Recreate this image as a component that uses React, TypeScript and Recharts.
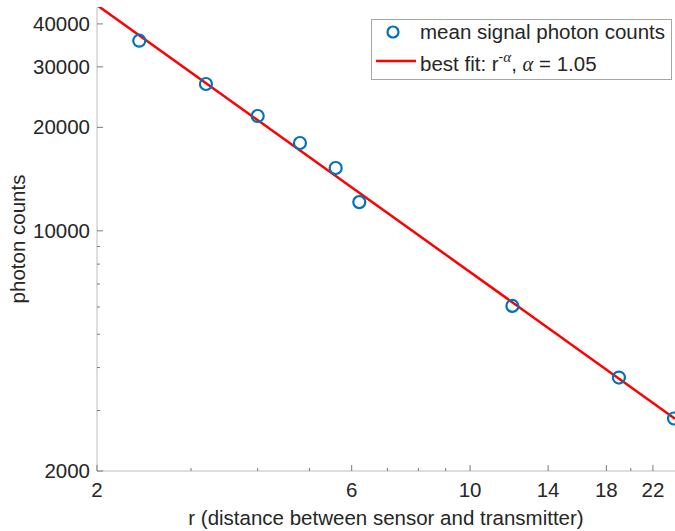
import {
  ComposedChart,
  Legend,
  Line,
  Scatter,
  XAxis,
  YAxis,
} from "recharts";

// measured points: distance r and mean signal photon counts
const distances = [2.4, 3.2, 4.0, 4.8, 5.6, 6.2, 12, 19, 24.1];
const photonCounts = [35750, 26740, 21580, 18010, 15230, 12120, 6046, 3741, 2843];

// best fit line end points (power law, straight on log-log axes)
const fitDistances = [2, 24.2];
const fitCounts = [45360, 2839];

const X_DOMAIN = [2, 24.2];
const Y_DOMAIN = [2000, 44800];

const xTicks = [2, 3, 4, 5, 6, 7, 8, 9, 10, 14, 18, 20, 22];
const xLabels = [2, 6, 10, 14, 18, 22];
const yTicks = [2000, 3000, 4000, 5000, 6000, 7000, 8000, 9000, 10000, 20000, 30000, 40000];
const yLabels = [2000, 10000, 20000, 30000, 40000];

const points = distances.map((r, i) => ({ r, counts: photonCounts[i] }));
const fitLine = fitDistances.map((r, i) => ({ r, counts: fitCounts[i] }));

const FONT = "'Liberation Sans', Arial, Helvetica, sans-serif";
const FS = 20.5;
const TEXT = "#262626";
const AXIS = "#bcbcbc";
const TICK = "#7a7a7a";
const BLUE = "#0072BD";

const YTick = (props: any) => {
  const { x, y, payload } = props;
  const axisX = x + 7;
  const major = yLabels.includes(payload.value);
  return (
    <g>
      <line x1={axisX} x2={axisX + (major ? 6 : 3)} y1={y} y2={y} stroke={TICK} />
      {major && (
        <text x={x} y={y} dy={7} textAnchor="end" fontFamily={FONT} fontSize={FS} fill={TEXT}>
          {payload.value}
        </text>
      )}
    </g>
  );
};

const XTick = (props: any) => {
  const { x, y, payload } = props;
  const axisY = y - 6;
  const major = xLabels.includes(payload.value);
  return (
    <g>
      <line x1={x} x2={x} y1={axisY} y2={axisY - (major ? 6 : 3)} stroke={TICK} />
      {major && (
        <text x={x} y={y} dy={20} textAnchor="middle" fontFamily={FONT} fontSize={FS} fill={TEXT}>
          {payload.value}
        </text>
      )}
    </g>
  );
};

const TopTick = (props: any) => {
  const { x, y, payload } = props;
  const major = xLabels.includes(payload.value);
  return <line x1={x} x2={x} y1={y} y2={y + (major ? 6 : 3)} stroke={TICK} />;
};

const YTitle = ({ viewBox }: any) => (
  <text
    transform={`translate(${viewBox.x + 25}, ${viewBox.y + viewBox.height / 2}) rotate(-90)`}
    textAnchor="middle"
    fontFamily={FONT}
    fontSize={FS}
    fill={TEXT}
  >
    photon counts
  </text>
);

const XTitle = ({ viewBox }: any) => (
  <text
    x={viewBox.x + viewBox.width / 2}
    y={viewBox.y + 54}
    textAnchor="middle"
    fontFamily={FONT}
    fontSize={FS}
    fill={TEXT}
  >
    r (distance between sensor and transmitter)
  </text>
);

const Ring = (props: any) => (
  <circle cx={props.cx} cy={props.cy} r={6} fill="none" stroke={BLUE} strokeWidth={2.2} />
);

const LegendBox = () => (
  <svg width={302} height={62}>
    <rect x={0.5} y={0.5} width={300} height={60} fill="#fff" stroke="#a6a6a6" />
    <circle cx={22} cy={13} r={5.5} fill="none" stroke={BLUE} strokeWidth={2.2} />
    <line x1={5} x2={45} y1={42} y2={42} stroke="#ff0000" strokeWidth={2.5} />
    <text x={49} y={20} fontFamily={FONT} fontSize={FS} fill={TEXT}>
      mean signal photon counts
    </text>
    <text x={49} y={52} fontFamily={FONT} fontSize={FS} fill={TEXT}>
      best fit: r
      <tspan dy={-9} fontSize={14}>-</tspan>
      <tspan fontSize={15} fontStyle="italic" fontFamily="'Liberation Serif', serif">α</tspan>
      <tspan dy={9}>, </tspan>
      <tspan fontStyle="italic" fontFamily="'Liberation Serif', serif">α</tspan>
      <tspan> = 1.05</tspan>
    </text>
  </svg>
);

export default function App() {
  return (
    <div style={{ position: "absolute", left: 0, top: 0, background: "#fff" }}>
      <ComposedChart width={675} height={531} margin={{ top: 7, right: 0, bottom: 0, left: 0 }}>
        <XAxis
          dataKey="r"
          type="number"
          scale="log"
          domain={X_DOMAIN}
          allowDataOverflow
          ticks={xTicks}
          interval={0}
          tickSize={0}
          tickMargin={6}
          height={60}
          tick={<XTick />}
          axisLine={{ stroke: AXIS }}
          label={<XTitle />}
        />
        <XAxis
          xAxisId="top"
          orientation="top"
          type="number"
          scale="log"
          domain={X_DOMAIN}
          allowDataOverflow
          ticks={xTicks}
          interval={0}
          tickSize={0}
          tickMargin={0}
          height={0}
          tick={<TopTick />}
          axisLine={{ stroke: AXIS }}
        />
        <YAxis
          dataKey="counts"
          type="number"
          scale="log"
          domain={Y_DOMAIN}
          allowDataOverflow
          ticks={yTicks}
          interval={0}
          tickSize={0}
          tickMargin={7}
          width={97}
          tick={<YTick />}
          axisLine={{ stroke: AXIS }}
          label={<YTitle />}
        />
        <Line
          data={fitLine}
          dataKey="counts"
          stroke="#ff0000"
          strokeWidth={2.5}
          dot={false}
          activeDot={false}
          isAnimationActive={false}
        />
        <Scatter data={points} dataKey="counts" shape={<Ring />} isAnimationActive={false} />
        <Legend
          content={<LegendBox />}
          layout="horizontal"
          verticalAlign="middle"
          align="center"
          wrapperStyle={{ left: 371, top: 19, width: 302, height: 62 }}
        />
      </ComposedChart>
    </div>
  );
}
